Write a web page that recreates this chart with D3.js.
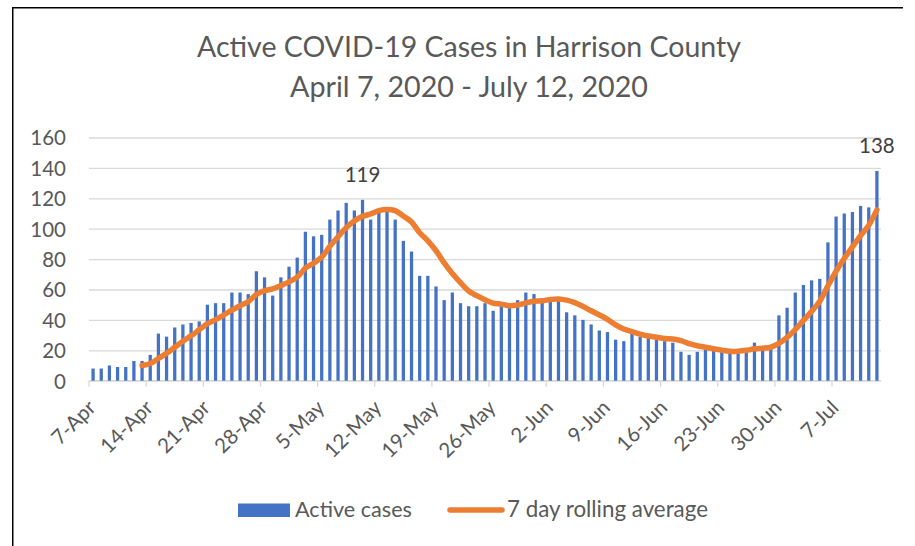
<!DOCTYPE html>
<html><head><meta charset="utf-8">
<script src="https://cdn.jsdelivr.net/npm/d3@7"></script>
<style>body{margin:0;background:#fff}svg{display:block}</style>
</head><body><svg id="c" width="915" height="546"></svg>
<script>
// ---- data ----
const titleLines = ["Active COVID-19 Cases in Harrison County", "April 7, 2020 - July 12, 2020"];
const firstDay = new Date(2020, 3, 7), lastDay = new Date(2020, 6, 12);
const activeCases = [8,8,10,9,9,13,13,17,31,29,
 35,37,38,39,50,51,51,58,58,57,
 72,68,56,68,75,81,98,95,96,106,
 112,117,112,119,106,111,112,106,92,85,
 69,69,62,53,58,51,49,49,51,46,
 49,49,53,58,57,52,52,53,45,43,
 40,37,33,32,27,26,31,29,28,27,
 26,25,19,17,19,21,20,19,19,19,
 19,25,20,21,43,48,58,63,66,67,
 91,108,110,111,115,114,138];
const rollingStartIndex = 6; // 13-Apr
const rollingAverage = [10.0,11.3,14.6,18,22,26,29.5,33.5,37.5,40.2,
 43.2,46.4,49.3,52.0,56.7,59.3,60.4,62.6,65.0,68.1,
 74.0,77.3,81.3,88.4,94.7,100.7,105.1,108.1,109.7,111.9,
 112.7,111.9,108.3,104.4,97.3,92.0,85.5,77.5,70.5,64.5,
 59.0,56.0,53.3,51.0,50.4,49.3,49.8,51.2,52.3,52.6,
 53.4,53.8,53.0,51.4,48.9,46.0,43.3,40.4,36.7,34.0,
 32.3,30.7,29.4,28.6,27.7,27.4,26.4,24.4,23.0,22.0,
 21.0,20.0,19.3,19.4,20.0,21.0,21.4,22.0,24.5,28.5,
 33.6,39.7,45.6,52.3,62.5,72.0,80.4,88.0,95.4,102.3,112.4];
const xTickLabels = ["7-Apr","14-Apr","21-Apr","28-Apr","5-May","12-May","19-May","26-May","2-Jun","9-Jun","16-Jun","23-Jun","30-Jun","7-Jul"];
const yTickValues = [0,20,40,60,80,100,120,140,160];
const labelledDays = [33, 96];
const seriesNames = ["Active cases", "7 day rolling average"];

// ---- chart ----
const days = d3.timeDay.range(firstDay, d3.timeDay.offset(lastDay, 1));
const svg = d3.select("#c");
const FONT = "Lato, 'Open Sans', sans-serif";
const textCol = "#595959";
const P = {left: 89, right: 881, top: 137.5, bottom: 380.7};

const x = d3.scaleBand().domain(d3.range(days.length)).range([P.left, P.right])
  .paddingInner(0.6).paddingOuter(0.3);
const step = x.step(), bw = x.bandwidth();
const slotLeft = i => x(i) - step * 0.3;
const y = d3.scaleLinear().domain([0, 160]).range([P.bottom, P.top]);

// border
svg.append("path").attr("d", "M12.75,546V7.75H903").attr("fill", "none")
  .attr("stroke", "#000").attr("stroke-width", 1.5);

function fit(sel, target) {
  const w = sel.node().getComputedTextLength();
  const fs = parseFloat(sel.attr("font-size"));
  sel.attr("font-size", (fs * target / w).toFixed(2));
}

// title
const t1 = svg.append("text").attr("x", 469).attr("y", 57).attr("text-anchor", "middle")
  .attr("font-family", FONT).attr("font-size", 26).attr("fill", textCol).text(titleLines[0]);
fit(t1, 544);
const t2 = svg.append("text").attr("x", 469).attr("y", 97).attr("text-anchor", "middle")
  .attr("font-family", FONT).attr("font-size", 26).attr("fill", textCol).text(titleLines[1]);
fit(t2, 358);

// y axis + gridlines
const yAxis = svg.append("g").attr("transform", `translate(${P.left},0)`)
  .call(d3.axisLeft(y).tickValues(yTickValues).tickSize(-(P.right - P.left)).tickPadding(23));
yAxis.select(".domain").remove();
yAxis.selectAll(".tick line").attr("stroke", "#D9D9D9").attr("stroke-width", 1.3);
yAxis.selectAll(".tick text").attr("font-family", FONT).attr("font-size", 20.5)
  .attr("fill", textCol).attr("dy", "0.36em");

// x axis ticks & labels
const xg = svg.append("g");
xg.append("line").attr("x1", P.left).attr("x2", P.right).attr("y1", y(0)).attr("y2", y(0))
  .attr("stroke", "#D9D9D9").attr("stroke-width", 1.3);
xTickLabels.forEach((lab, k) => {
  const tx = slotLeft(k * 7);
  xg.append("line").attr("x1", tx).attr("x2", tx).attr("y1", y(0)).attr("y2", y(0) + 6)
    .attr("stroke", "#D9D9D9").attr("stroke-width", 1.3);
  xg.append("text").attr("text-anchor", "end").attr("font-family", FONT).attr("font-size", 20.5)
    .attr("fill", textCol).attr("transform", `translate(${tx + 8},409) rotate(-45)`).text(lab);
});

// bars
svg.append("g").selectAll("rect").data(activeCases).join("rect")
  .attr("x", (d, i) => x(i)).attr("width", bw)
  .attr("y", d => y(d)).attr("height", d => y(0) - y(d)).attr("fill", "#4472C4");

// rolling average line
const line = d3.line().x((d, j) => x(j + rollingStartIndex) + bw / 2).y(d => y(d))
  .curve(d3.curveCatmullRom.alpha(0.5));
svg.append("path").datum(rollingAverage).attr("d", line).attr("fill", "none")
  .attr("stroke", "#ED7D31").attr("stroke-width", 5.5)
  .attr("stroke-linecap", "round").attr("stroke-linejoin", "round");

// data labels
labelledDays.forEach(i => {
  svg.append("text").attr("x", x(i) + bw / 2).attr("y", y(activeCases[i]) - 18)
    .attr("text-anchor", "middle").attr("font-family", FONT).attr("font-size", 20.5)
    .attr("fill", "#404040").text(activeCases[i]);
});

// legend
svg.append("rect").attr("x", 238).attr("y", 503.5).attr("width", 52).attr("height", 13.5).attr("fill", "#4472C4");
const l1 = svg.append("text").attr("x", 295).attr("y", 517).attr("font-family", FONT).attr("font-size", 20)
  .attr("fill", textCol).text(seriesNames[0]);
fit(l1, 117);
svg.append("line").attr("x1", 450).attr("x2", 502).attr("y1", 510).attr("y2", 510)
  .attr("stroke", "#ED7D31").attr("stroke-width", 5.5).attr("stroke-linecap", "round");
const l2 = svg.append("text").attr("x", 507).attr("y", 517).attr("font-family", FONT).attr("font-size", 20)
  .attr("fill", textCol).text(seriesNames[1]);
fit(l2, 201);
</script></body></html>
